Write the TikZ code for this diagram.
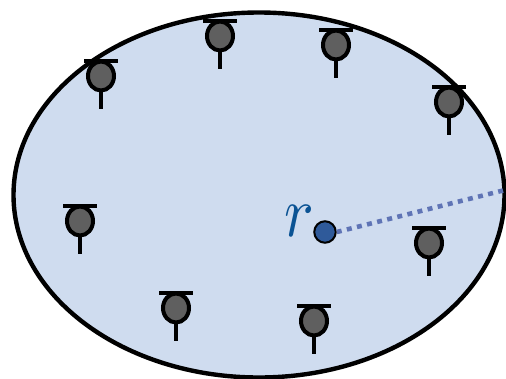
\documentclass[tikz,border=0pt]{standalone}
\usepackage{xcolor}
\usetikzlibrary{positioning,shapes.geometric,calc}
\definecolor{fieldfill}{HTML}{CFDCEF}
\definecolor{sensorfill}{HTML}{5F5F5F}
\definecolor{basefill}{HTML}{2F5A9A}
\definecolor{rangeline}{HTML}{5F74B5}
\definecolor{rlabel}{HTML}{0B5394}

\begin{document}
\begin{tikzpicture}[
  x=1pt, y=-1pt,
  field/.style={draw, ellipse, line width=4.4pt, fill=fieldfill, minimum width=491pt, minimum height=365pt, inner sep=0pt},
  sensor/.style={draw, ellipse, line width=4pt, fill=sensorfill, minimum width=26pt, minimum height=29pt, inner sep=0pt},
  basenode/.style={draw, circle, line width=2pt, fill=basefill, minimum size=21.5pt, inner sep=0pt},
  wire/.style={line width=4pt},
  rangeline/.style={color=rangeline, line width=4.6pt, dash pattern=on 5pt off 5.4pt}
]
\useasboundingbox (0,0) rectangle (506,378);
\node[field] (f) at (259,195) {};
\foreach \name/\px/\py in {s1/101/76, s2/220/36, s3/336/45, s4/449/102, s5/80/221, s6/176/308, s7/314/321, s8/429/243} {
  \node[sensor] (\name) at (\px,\py) {};
  \draw[wire] ($(\name)+(-17,-15)$) -- ($(\name)+(17,-15)$);
  \draw[wire] ($(\name.south)+(0,-1)$) -- ++(0,17);
}
\coordinate (edge) at (505,190);
\node[basenode] (b) at (325,232) {};
\draw[rangeline] (b.east) -- (edge);
\node[text=rlabel, inner sep=0pt, left=-1pt of b, yshift=11pt] (r) {\scalebox{6.2}[7.2]{$r$}};
\end{tikzpicture}
\end{document}
